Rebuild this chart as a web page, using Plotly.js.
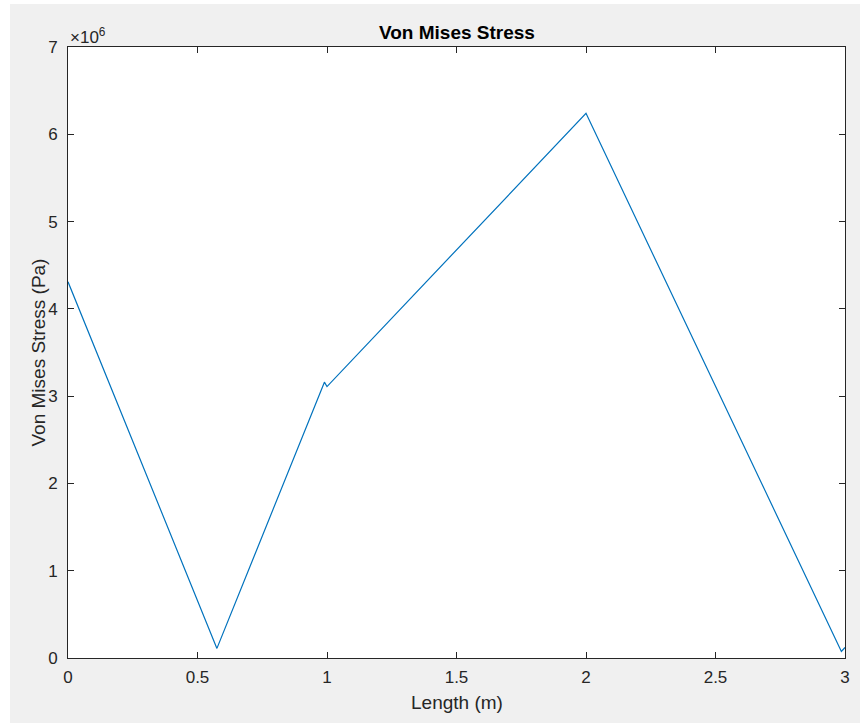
<!DOCTYPE html>
<html>
<head>
<meta charset="utf-8">
<script src="https://cdn.plot.ly/plotly-3.0.1.min.js"></script>
<style>
html,body{margin:0;padding:0;background:#ffffff;}
#chart{position:absolute;left:10px;top:4px;width:850px;height:719px;}
</style>
</head>
<body>
<div id="chart"></div>
<script>
// Data
const lengthM = [0, 0.575, 0.99, 1.0, 2.0, 2.986, 3.0];
const stressPa = [4.31e6, 0.11e6, 3.16e6, 3.11e6, 6.24e6, 0.075e6, 0.12e6];
const yTickVals = [0, 1e6, 2e6, 3e6, 4e6, 5e6, 6e6, 7e6];
const yTickText = ['0', '1', '2', '3', '4', '5', '6', '7'];
const xTickVals = [0, 0.5, 1, 1.5, 2, 2.5, 3];
const xTickText = ['0', '0.5', '1', '1.5', '2', '2.5', '3'];

const font = 'Liberation Sans, Arial, Helvetica, sans-serif';

const trace = {
  x: lengthM, y: stressPa, type: 'scatter', mode: 'lines',
  line: {color: '#0072BD', width: 1.2}, hoverinfo: 'skip'
};

const axisCommon = {
  showgrid: false, zeroline: false, showline: true, mirror: 'ticks',
  linecolor: '#262626', linewidth: 1, ticks: 'inside', ticklen: 6,
  tickcolor: '#262626', tickwidth: 1,
  tickfont: {family: font, size: 17, color: '#262626'}
};

const layout = {
  width: 850, height: 719,
  paper_bgcolor: '#f0f0f0', plot_bgcolor: '#ffffff',
  margin: {l: 58, r: 15, t: 43, b: 65},
  showlegend: false,
  xaxis: Object.assign({}, axisCommon, {
    range: [0, 3], tickmode: 'array', tickvals: xTickVals, ticktext: xTickText,
    ticklabelstandoff: 4
  }),
  yaxis: Object.assign({}, axisCommon, {
    range: [0, 7e6], tickmode: 'array', tickvals: yTickVals, ticktext: yTickText,
    ticklabelstandoff: 6
  }),
  annotations: [
    {text: '<b>Von Mises Stress</b>', xref: 'paper', yref: 'paper', x: 0.5, y: 1,
     yshift: 15, xanchor: 'center', yanchor: 'middle', showarrow: false,
     font: {family: font, size: 19, color: '#000000'}},
    {text: 'Length (m)', xref: 'paper', yref: 'paper', x: 0.5, y: 0,
     yshift: -44, xanchor: 'center', yanchor: 'middle', showarrow: false,
     font: {family: font, size: 19, color: '#262626'}},
    {text: 'Von Mises Stress (Pa)', xref: 'paper', yref: 'paper', x: 0, y: 0.5,
     xshift: -30, xanchor: 'center', yanchor: 'middle', showarrow: false, textangle: -90,
     font: {family: font, size: 19, color: '#262626'}},
    {text: '×10<sup>6</sup>', xref: 'paper', yref: 'paper', x: 0, y: 1,
     xanchor: 'left', yanchor: 'bottom', yshift: -2, xshift: 0, showarrow: false,
     font: {family: font, size: 17, color: '#262626'}}
  ]
};

Plotly.newPlot('chart', [trace], layout, {displayModeBar: false, staticPlot: true});
</script>
</body>
</html>
